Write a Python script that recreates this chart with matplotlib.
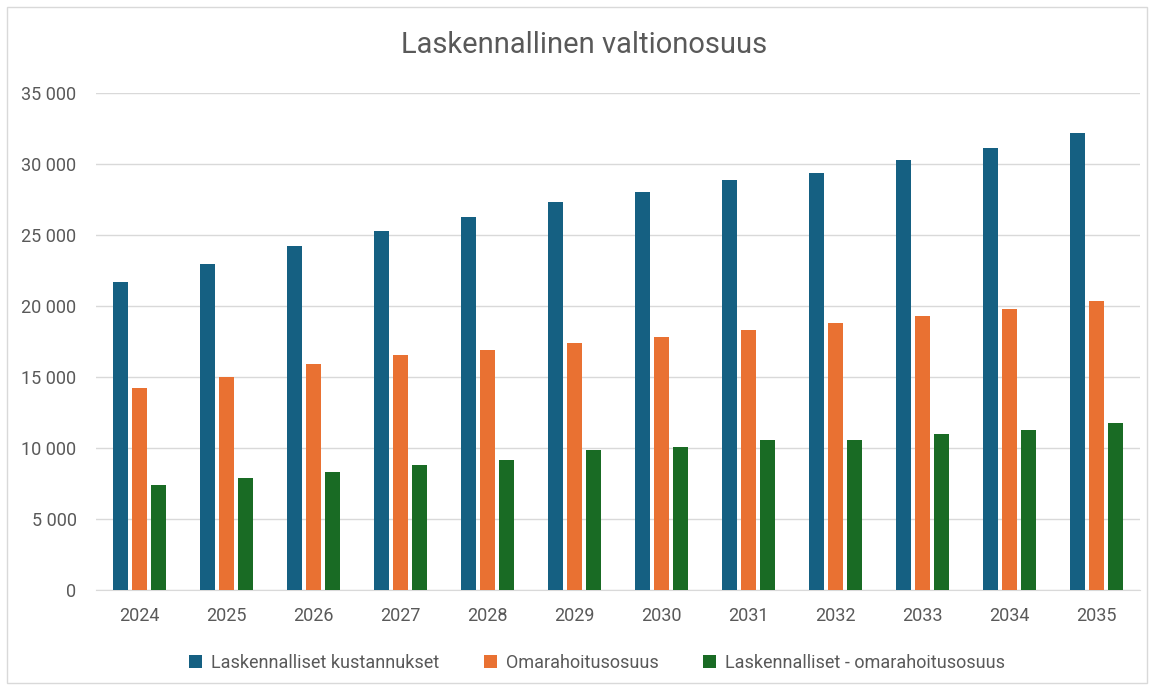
import matplotlib
matplotlib.use("Agg")
import matplotlib.pyplot as plt
import numpy as np
from matplotlib.patches import Rectangle
from matplotlib.ticker import FuncFormatter, MultipleLocator

years = ["2024", "2025", "2026", "2027", "2028", "2029", "2030", "2031", "2032", "2033", "2034", "2035"]
kustannukset = [21700, 22950, 24250, 25300, 26250, 27300, 28000, 28900, 29400, 30300, 31100, 32150]
omarahoitus = [14250, 15000, 15900, 16550, 16900, 17400, 17800, 18300, 18800, 19300, 19800, 20350]
erotus = [7400, 7900, 8300, 8800, 9150, 9850, 10050, 10550, 10550, 11000, 11250, 11750]
series_names = ["Laskennalliset kustannukset", "Omarahoitusosuus", "Laskennalliset - omarahoitusosuus"]
colors = ["#156082", "#E97132", "#196B24"]

plt.rcParams['font.family'] = ['Liberation Sans Narrow', 'Roboto', 'DejaVu Sans']

fig = plt.figure(figsize=(11.54, 6.91), dpi=100)
ax = fig.add_axes([96/1154, 1 - 590/691, (1140 - 96)/1154, (590 - 93)/691])

fig.patches.append(Rectangle((7/1154, 1 - 683/691), (1147 - 7)/1154, (683 - 7)/691,
                             transform=fig.transFigure, fill=False, edgecolor="#d9d9d9", linewidth=1))

x = np.arange(len(years))
w = 0.172
off = 0.218
for i, (vals, name, c) in enumerate(zip([kustannukset, omarahoitus, erotus], series_names, colors)):
    ax.bar(x + (i - 1) * off, vals, width=w, color=c, label=name, zorder=3)

ax.set_xlim(-0.5, len(years) - 0.5)
ax.set_ylim(0, 35000)
ax.yaxis.set_major_locator(MultipleLocator(5000))
ax.yaxis.set_major_formatter(FuncFormatter(lambda v, p: f"{int(v):,}".replace(",", " ")))
ax.set_xticks(x)
ax.set_xticklabels(years)
ax.grid(axis="y", color="#d9d9d9", linewidth=1, zorder=0)
for s in ["top", "right", "left"]:
    ax.spines[s].set_visible(False)
ax.spines["bottom"].set_color("#d9d9d9")
ax.tick_params(axis="both", length=0, labelsize=13, colors="#595959")
ax.tick_params(axis="y", pad=14)
ax.tick_params(axis="x", pad=12)

fig.text(584/1154, 1 - 45/691, "Laskennallinen valtionosuus", ha="center", va="center",
         fontsize=21, color="#595959")

leg = fig.legend(loc="center", bbox_to_anchor=(597/1154, 1 - 663/691), ncol=3, frameon=False,
                 fontsize=13, handlelength=0.7, handleheight=0.7, columnspacing=2.5, handletextpad=0.5)
for t in leg.get_texts():
    t.set_color("#595959")

fig.savefig("out.png", dpi=100, facecolor="white")
